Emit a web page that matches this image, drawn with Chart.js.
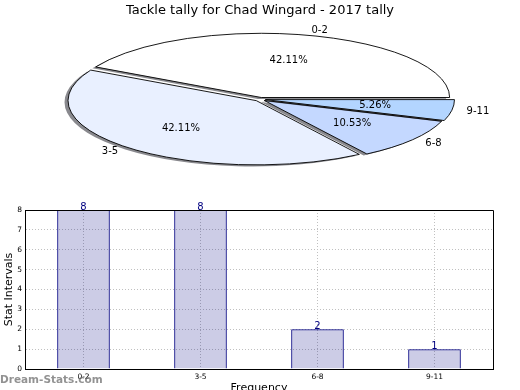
<!DOCTYPE html>
<html>
<head>
<meta charset="utf-8">
<script src="https://cdn.jsdelivr.net/npm/chart.js@4.4.1/dist/chart.umd.min.js"></script>
<style>
  html, body { margin: 0; padding: 0; background: #fff; overflow: hidden; }
  #page { position: relative; width: 520px; height: 390px; overflow: hidden; }
  #pieChart { position: absolute; left: 0; top: 0; }
  #barChart { position: absolute; left: 0; top: 190px; }
  #mark { position: absolute; left: 0; top: 373px; font: bold 10.5px 'DejaVu Sans'; color: rgba(110,110,110,0.75); }
</style>
</head>
<body>
<div id="page">
  <canvas id="pieChart" width="520" height="180"></canvas>
  <canvas id="barChart" width="520" height="212"></canvas>
  <div id="mark">Dream-Stats.com</div>
</div>
<script>
const categories = ['0-2', '3-5', '6-8', '9-11'];
const tallies = [8, 8, 2, 1];
const sliceColors = ['#ffffff', '#e9f0ff', '#c4d8ff', '#b3d5ff'];
const yTicks = [0, 1, 2, 3, 4, 5, 6, 7, 8];

const FONT = 'DejaVu Sans';
const SQUASH = 0.341;   // pie is drawn as a flat ellipse
const EXPLODE = 21.6;   // chart.js moves slices by offset / 4

const total = tallies.reduce((a, b) => a + b, 0);

function squash(ctx, x, y) {
  ctx.translate(x, y);
  ctx.scale(1, -SQUASH); // flip too, so slices run counter-clockwise
  ctx.translate(-x, -y);
}

// squashes the pie, adds the shadow, then outlines and labels each slice
const flatPie = {
  id: 'flatPie',
  beforeDatasetsDraw(chart) {
    const ctx = chart.ctx;
    const first = chart.getDatasetMeta(0).data[0];
    ctx.save();
    squash(ctx, first.x, first.y);
    ctx.shadowColor = 'rgba(40,40,50,0.55)';
    ctx.shadowOffsetX = -3.5;
    ctx.shadowOffsetY = 1.5;
  },
  afterDatasetsDraw(chart) {
    const ctx = chart.ctx;
    ctx.restore();
    const arcs = chart.getDatasetMeta(0).data;
    arcs.forEach((arc, i) => {
      const off = EXPLODE / 4;
      const mid = (arc.startAngle + arc.endAngle) / 2;
      const fix = 1 - Math.sin(Math.min(Math.PI, arc.circumference));
      const r = arc.outerRadius + off * fix;
      const ox = arc.x + Math.cos(mid) * off;
      const oy = arc.y + Math.sin(mid) * off;

      ctx.save();
      squash(ctx, arc.x, arc.y);
      ctx.beginPath();
      ctx.moveTo(ox, oy);
      ctx.arc(ox, oy, r, arc.startAngle, arc.endAngle);
      ctx.closePath();
      ctx.restore();
      ctx.lineWidth = 0.9;
      ctx.strokeStyle = '#000';
      ctx.stroke();

      const R = arc.outerRadius;
      ctx.fillStyle = '#000';
      ctx.font = '10px ' + FONT;
      ctx.textBaseline = 'middle';

      // category label outside
      const d1 = off + 1.1 * R;
      const lx = arc.x + Math.cos(mid) * d1;
      const ly = arc.y - SQUASH * Math.sin(mid) * d1;
      ctx.textAlign = Math.cos(mid) > 0 ? 'left' : 'right';
      ctx.fillText(categories[i], lx, ly);

      // percentage inside
      const d2 = off + 0.6 * R;
      const px = arc.x + Math.cos(mid) * d2;
      const py = arc.y - SQUASH * Math.sin(mid) * d2;
      ctx.textAlign = 'center';
      ctx.fillText((tallies[i] / total * 100).toFixed(2) + '%', px, py);
    });
  }
};

new Chart(document.getElementById('pieChart'), {
  type: 'pie',
  data: {
    labels: categories,
    datasets: [{
      data: tallies,
      backgroundColor: sliceColors,
      borderWidth: 0,
      offset: EXPLODE
    }]
  },
  options: {
    responsive: false,
    animation: false,
    rotation: 90,
    radius: 185.5,
    layout: { padding: 0 },
    plugins: {
      legend: { display: false },
      tooltip: { enabled: false },
      title: {
        display: true,
        text: 'Tackle tally for Chad Wingard - 2017 tally',
        color: '#000',
        font: { family: FONT, size: 13, weight: 'normal' },
        padding: { top: 3, bottom: 0 }
      }
    }
  },
  plugins: [flatPie]
});

// value above each bar and the top / right spines
const barExtras = {
  id: 'barExtras',
  afterDraw(chart) {
    const ctx = chart.ctx;
    const a = chart.chartArea;
    ctx.save();
    ctx.strokeStyle = '#000';
    ctx.lineWidth = 1;
    ctx.beginPath();
    ctx.moveTo(Math.round(a.left), Math.round(a.top) + 0.5);
    ctx.lineTo(Math.round(a.right) + 0.5, Math.round(a.top) + 0.5);
    ctx.lineTo(Math.round(a.right) + 0.5, Math.round(a.bottom));
    ctx.stroke();

    ctx.fillStyle = '#000080';
    ctx.font = '10px ' + FONT;
    ctx.textAlign = 'center';
    ctx.textBaseline = 'alphabetic';
    chart.getDatasetMeta(0).data.forEach((bar, i) => {
      ctx.fillText(String(tallies[i]), bar.x, bar.y);
    });
    ctx.restore();
  }
};

const tickFont = { family: FONT, size: 7.5 };
const titleFont = { family: FONT, size: 11 };

new Chart(document.getElementById('barChart'), {
  type: 'bar',
  data: {
    labels: categories,
    datasets: [{
      data: tallies,
      backgroundColor: 'rgba(0,0,128,0.2)',
      borderColor: '#000080',
      borderWidth: 1,
      barPercentage: 0.45,
      categoryPercentage: 1
    }]
  },
  options: {
    responsive: false,
    animation: false,
    layout: { padding: { top: 20, right: 27, left: 0, bottom: 0 } },
    plugins: { legend: { display: false }, tooltip: { enabled: false } },
    scales: {
      x: {
        z: 1,
        offset: true,
        grid: { offset: false, color: '#c0c0c0', drawTicks: false },
        border: { color: '#000', dash: [1, 2] },
        ticks: { color: '#000', font: tickFont, padding: 4 },
        title: { display: true, text: 'Frequency', color: '#000', font: titleFont, padding: { top: 0, bottom: 7 } },
        afterFit(s) { s.height = 33; }
      },
      y: {
        z: 1,
        min: yTicks[0],
        max: yTicks[yTicks.length - 1],
        grid: { color: '#c0c0c0', drawTicks: false },
        border: { color: '#000', dash: [1, 2] },
        ticks: { stepSize: 1, color: '#000', font: tickFont, padding: 3 },
        afterBuildTicks(s) { s.ticks = yTicks.map(v => ({ value: v })); },
        title: { display: true, text: 'Stat Intervals', color: '#000', font: titleFont, padding: { top: 2.4, bottom: 0 } },
        afterFit(s) { s.width = 25; }
      }
    }
  },
  plugins: [barExtras]
});
</script>
</body>
</html>
